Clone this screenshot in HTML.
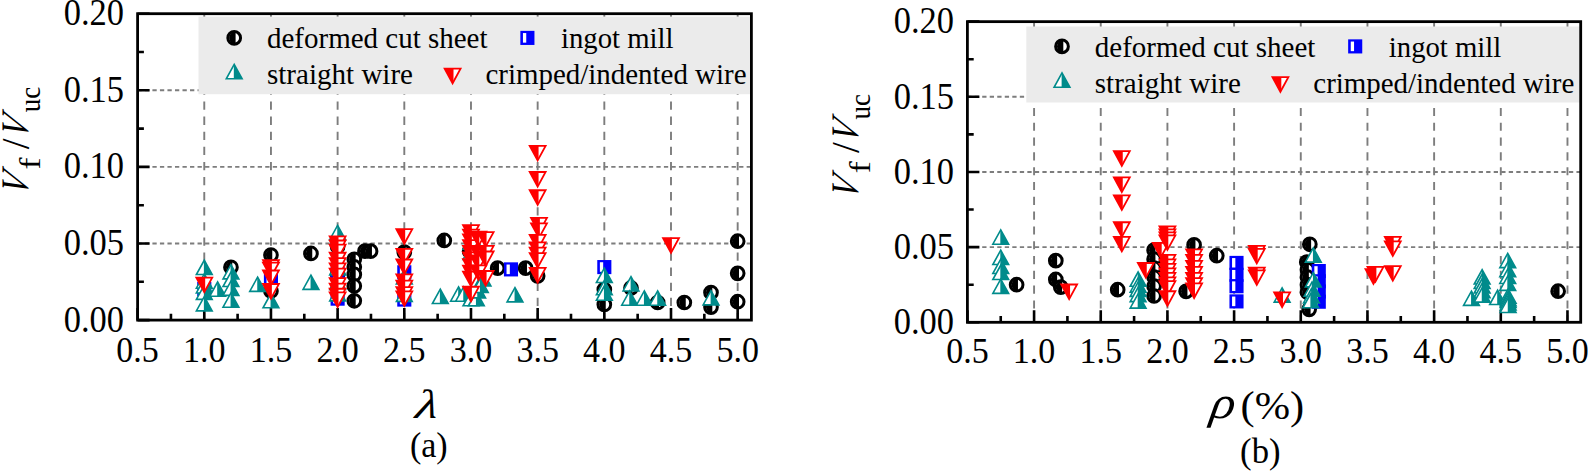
<!DOCTYPE html>
<html lang="en">
<head>
<meta charset="utf-8">
<title>Vf/Vuc scatter plots</title>
<style>
html,body{margin:0;padding:0;background:#fff;}
body{width:1588px;height:471px;overflow:hidden;}
svg{display:block;}
</style>
</head>
<body>
<svg width="1588" height="471" viewBox="0 0 1588 471" font-family='"Liberation Serif", "DejaVu Serif", serif'>
<rect width="1588" height="471" fill="#fff"/>
<g stroke="#7d7d7d" stroke-width="1.9" fill="none"><line x1="204.27" y1="320.1" x2="204.27" y2="13.7" stroke-dasharray="8.3 6.8" stroke-dashoffset="1.1"/><line x1="270.95" y1="320.1" x2="270.95" y2="13.7" stroke-dasharray="8.3 6.8" stroke-dashoffset="1.1"/><line x1="337.62" y1="320.1" x2="337.62" y2="13.7" stroke-dasharray="8.3 6.8" stroke-dashoffset="1.1"/><line x1="404.3" y1="320.1" x2="404.3" y2="13.7" stroke-dasharray="8.3 6.8" stroke-dashoffset="1.1"/><line x1="470.98" y1="320.1" x2="470.98" y2="13.7" stroke-dasharray="8.3 6.8" stroke-dashoffset="1.1"/><line x1="537.65" y1="320.1" x2="537.65" y2="13.7" stroke-dasharray="8.3 6.8" stroke-dashoffset="1.1"/><line x1="604.32" y1="320.1" x2="604.32" y2="13.7" stroke-dasharray="8.3 6.8" stroke-dashoffset="1.1"/><line x1="671" y1="320.1" x2="671" y2="13.7" stroke-dasharray="8.3 6.8" stroke-dashoffset="1.1"/><line x1="737.67" y1="320.1" x2="737.67" y2="13.7" stroke-dasharray="8.3 6.8" stroke-dashoffset="1.1"/><line x1="137.6" y1="243.5" x2="751.4" y2="243.5" stroke-dasharray="4.3 3.222" stroke-dashoffset="0.24"/><line x1="137.6" y1="166.9" x2="751.4" y2="166.9" stroke-dasharray="4.3 3.222" stroke-dashoffset="0.24"/><line x1="137.6" y1="90.3" x2="751.4" y2="90.3" stroke-dasharray="4.3 3.222" stroke-dashoffset="0.24"/></g>
<rect x="198.5" y="16.6" width="552.9" height="77.6" fill="#ebebeb"/>
<path d="M137.6 320.1V308.1M170.94 320.1V313.8M204.27 320.1V308.1M237.61 320.1V313.8M270.95 320.1V308.1M304.29 320.1V313.8M337.62 320.1V308.1M370.96 320.1V313.8M404.3 320.1V308.1M437.64 320.1V313.8M470.98 320.1V308.1M504.31 320.1V313.8M537.65 320.1V308.1M570.99 320.1V313.8M604.32 320.1V308.1M637.66 320.1V313.8M671 320.1V308.1M704.34 320.1V313.8M737.67 320.1V308.1M137.6 320.1H149.6M137.6 281.8H143.9M137.6 243.5H149.6M137.6 205.2H143.9M137.6 166.9H149.6M137.6 128.6H143.9M137.6 90.3H149.6M137.6 52H143.9M137.6 13.7H149.6" stroke="#000" stroke-width="2.6" fill="none"/>
<g><circle cx="230.94" cy="267.25" r="6.35" fill="#fff" stroke="#000000" stroke-width="3.0"/><path d="M232.25 260.9A6.35 6.35 0 0 0 232.25 273.6Z" fill="#000000"/><rect x="230.94" y="260.9" width="1" height="12.7" fill="#000000"/><circle cx="270.95" cy="254.99" r="6.35" fill="#fff" stroke="#000000" stroke-width="3.0"/><path d="M272.25 248.64A6.35 6.35 0 0 0 272.25 261.34Z" fill="#000000"/><rect x="270.95" y="248.64" width="1" height="12.7" fill="#000000"/><circle cx="270.95" cy="290.99" r="6.35" fill="#fff" stroke="#000000" stroke-width="3.0"/><path d="M272.25 284.64A6.35 6.35 0 0 0 272.25 297.34Z" fill="#000000"/><rect x="270.95" y="284.64" width="1" height="12.7" fill="#000000"/><circle cx="310.95" cy="253.46" r="6.35" fill="#fff" stroke="#000000" stroke-width="3.0"/><path d="M312.25 247.11A6.35 6.35 0 0 0 312.25 259.81Z" fill="#000000"/><rect x="310.95" y="247.11" width="1" height="12.7" fill="#000000"/><circle cx="337.62" cy="246.56" r="6.35" fill="#fff" stroke="#000000" stroke-width="3.0"/><path d="M338.93 240.21A6.35 6.35 0 0 0 338.93 252.91Z" fill="#000000"/><rect x="337.62" y="240.21" width="1" height="12.7" fill="#000000"/><circle cx="337.62" cy="274.14" r="6.35" fill="#fff" stroke="#000000" stroke-width="3.0"/><path d="M338.93 267.79A6.35 6.35 0 0 0 338.93 280.49Z" fill="#000000"/><rect x="337.62" y="267.79" width="1" height="12.7" fill="#000000"/><circle cx="354.29" cy="259.28" r="6.35" fill="#fff" stroke="#000000" stroke-width="3.0"/><path d="M355.59 252.93A6.35 6.35 0 0 0 355.59 265.63Z" fill="#000000"/><rect x="354.29" y="252.93" width="1" height="12.7" fill="#000000"/><circle cx="354.29" cy="266.94" r="6.35" fill="#fff" stroke="#000000" stroke-width="3.0"/><path d="M355.59 260.59A6.35 6.35 0 0 0 355.59 273.29Z" fill="#000000"/><rect x="354.29" y="260.59" width="1" height="12.7" fill="#000000"/><circle cx="354.29" cy="274.45" r="6.35" fill="#fff" stroke="#000000" stroke-width="3.0"/><path d="M355.59 268.1A6.35 6.35 0 0 0 355.59 280.8Z" fill="#000000"/><rect x="354.29" y="268.1" width="1" height="12.7" fill="#000000"/><circle cx="354.29" cy="285.94" r="6.35" fill="#fff" stroke="#000000" stroke-width="3.0"/><path d="M355.59 279.59A6.35 6.35 0 0 0 355.59 292.29Z" fill="#000000"/><rect x="354.29" y="279.59" width="1" height="12.7" fill="#000000"/><circle cx="354.29" cy="300.8" r="6.35" fill="#fff" stroke="#000000" stroke-width="3.0"/><path d="M355.59 294.45A6.35 6.35 0 0 0 355.59 307.15Z" fill="#000000"/><rect x="354.29" y="294.45" width="1" height="12.7" fill="#000000"/><circle cx="364.96" cy="251.16" r="6.35" fill="#fff" stroke="#000000" stroke-width="3.0"/><path d="M366.26 244.81A6.35 6.35 0 0 0 366.26 257.51Z" fill="#000000"/><rect x="364.96" y="244.81" width="1" height="12.7" fill="#000000"/><circle cx="370.56" cy="251.16" r="6.35" fill="#fff" stroke="#000000" stroke-width="3.0"/><path d="M371.86 244.81A6.35 6.35 0 0 0 371.86 257.51Z" fill="#000000"/><rect x="370.56" y="244.81" width="1" height="12.7" fill="#000000"/><circle cx="404.3" cy="252.08" r="6.35" fill="#fff" stroke="#000000" stroke-width="3.0"/><path d="M405.6 245.73A6.35 6.35 0 0 0 405.6 258.43Z" fill="#000000"/><rect x="404.3" y="245.73" width="1" height="12.7" fill="#000000"/><circle cx="444.3" cy="240.44" r="6.35" fill="#fff" stroke="#000000" stroke-width="3.0"/><path d="M445.6 234.09A6.35 6.35 0 0 0 445.6 246.79Z" fill="#000000"/><rect x="444.3" y="234.09" width="1" height="12.7" fill="#000000"/><circle cx="469.64" cy="251.16" r="6.35" fill="#fff" stroke="#000000" stroke-width="3.0"/><path d="M470.94 244.81A6.35 6.35 0 0 0 470.94 257.51Z" fill="#000000"/><rect x="469.64" y="244.81" width="1" height="12.7" fill="#000000"/><circle cx="497.64" cy="268.17" r="6.35" fill="#fff" stroke="#000000" stroke-width="3.0"/><path d="M498.94 261.82A6.35 6.35 0 0 0 498.94 274.52Z" fill="#000000"/><rect x="497.64" y="261.82" width="1" height="12.7" fill="#000000"/><circle cx="525.65" cy="268.17" r="6.35" fill="#fff" stroke="#000000" stroke-width="3.0"/><path d="M526.95 261.82A6.35 6.35 0 0 0 526.95 274.52Z" fill="#000000"/><rect x="525.65" y="261.82" width="1" height="12.7" fill="#000000"/><circle cx="537.65" cy="275.98" r="6.35" fill="#fff" stroke="#000000" stroke-width="3.0"/><path d="M538.95 269.63A6.35 6.35 0 0 0 538.95 282.33Z" fill="#000000"/><rect x="537.65" y="269.63" width="1" height="12.7" fill="#000000"/><circle cx="604.32" cy="289.46" r="6.35" fill="#fff" stroke="#000000" stroke-width="3.0"/><path d="M605.62 283.11A6.35 6.35 0 0 0 605.62 295.81Z" fill="#000000"/><rect x="604.32" y="283.11" width="1" height="12.7" fill="#000000"/><circle cx="604.32" cy="304.47" r="6.35" fill="#fff" stroke="#000000" stroke-width="3.0"/><path d="M605.62 298.12A6.35 6.35 0 0 0 605.62 310.82Z" fill="#000000"/><rect x="604.32" y="298.12" width="1" height="12.7" fill="#000000"/><circle cx="631" cy="287.93" r="6.35" fill="#fff" stroke="#000000" stroke-width="3.0"/><path d="M632.29 281.58A6.35 6.35 0 0 0 632.29 294.28Z" fill="#000000"/><rect x="631" y="281.58" width="1" height="12.7" fill="#000000"/><circle cx="657.67" cy="302.48" r="6.35" fill="#fff" stroke="#000000" stroke-width="3.0"/><path d="M658.97 296.13A6.35 6.35 0 0 0 658.97 308.83Z" fill="#000000"/><rect x="657.67" y="296.13" width="1" height="12.7" fill="#000000"/><circle cx="684.33" cy="302.48" r="6.35" fill="#fff" stroke="#000000" stroke-width="3.0"/><path d="M685.63 296.13A6.35 6.35 0 0 0 685.63 308.83Z" fill="#000000"/><rect x="684.33" y="296.13" width="1" height="12.7" fill="#000000"/><circle cx="711" cy="292.52" r="6.35" fill="#fff" stroke="#000000" stroke-width="3.0"/><path d="M712.3 286.17A6.35 6.35 0 0 0 712.3 298.87Z" fill="#000000"/><rect x="711" y="286.17" width="1" height="12.7" fill="#000000"/><circle cx="711" cy="307.08" r="6.35" fill="#fff" stroke="#000000" stroke-width="3.0"/><path d="M712.3 300.73A6.35 6.35 0 0 0 712.3 313.43Z" fill="#000000"/><rect x="711" y="300.73" width="1" height="12.7" fill="#000000"/><circle cx="737.67" cy="241.2" r="6.35" fill="#fff" stroke="#000000" stroke-width="3.0"/><path d="M738.97 234.85A6.35 6.35 0 0 0 738.97 247.55Z" fill="#000000"/><rect x="737.67" y="234.85" width="1" height="12.7" fill="#000000"/><circle cx="737.67" cy="273.37" r="6.35" fill="#fff" stroke="#000000" stroke-width="3.0"/><path d="M738.97 267.02A6.35 6.35 0 0 0 738.97 279.72Z" fill="#000000"/><rect x="737.67" y="267.02" width="1" height="12.7" fill="#000000"/><circle cx="737.67" cy="301.72" r="6.35" fill="#fff" stroke="#000000" stroke-width="3.0"/><path d="M738.97 295.37A6.35 6.35 0 0 0 738.97 308.07Z" fill="#000000"/><rect x="737.67" y="295.37" width="1" height="12.7" fill="#000000"/></g>
<g><rect x="197.22" y="281.95" width="14.1" height="14.1" fill="#0000ff"/><rect x="199.82" y="284.15" width="3.3" height="9.6" fill="#fff"/><rect x="263.9" y="272.45" width="14.1" height="14.1" fill="#0000ff"/><rect x="266.5" y="274.65" width="3.3" height="9.6" fill="#fff"/><rect x="330.57" y="267.09" width="14.1" height="14.1" fill="#0000ff"/><rect x="333.18" y="269.29" width="3.3" height="9.6" fill="#fff"/><rect x="330.57" y="291.6" width="14.1" height="14.1" fill="#0000ff"/><rect x="333.18" y="293.8" width="3.3" height="9.6" fill="#fff"/><rect x="397.25" y="265.25" width="14.1" height="14.1" fill="#0000ff"/><rect x="399.85" y="267.45" width="3.3" height="9.6" fill="#fff"/><rect x="397.25" y="292.52" width="14.1" height="14.1" fill="#0000ff"/><rect x="399.85" y="294.72" width="3.3" height="9.6" fill="#fff"/><rect x="503.93" y="262.34" width="14.1" height="14.1" fill="#0000ff"/><rect x="506.53" y="264.54" width="3.3" height="9.6" fill="#fff"/><rect x="597.27" y="260.04" width="14.1" height="14.1" fill="#0000ff"/><rect x="599.88" y="262.24" width="3.3" height="9.6" fill="#fff"/></g>
<g><path d="M204.27 260.26L212.17 274.56L196.37 274.56Z" fill="#fff" stroke="#008b8b" stroke-width="1.6" stroke-linejoin="miter"/><path d="M204.27 260.26L212.17 274.56L203.87 274.56L203.87 261.06Z" fill="#008b8b"/><path d="M204.27 273.89L212.17 288.19L196.37 288.19Z" fill="#fff" stroke="#008b8b" stroke-width="1.6" stroke-linejoin="miter"/><path d="M204.27 273.89L212.17 288.19L203.87 288.19L203.87 274.69Z" fill="#008b8b"/><path d="M204.27 278.64L212.17 292.94L196.37 292.94Z" fill="#fff" stroke="#008b8b" stroke-width="1.6" stroke-linejoin="miter"/><path d="M204.27 278.64L212.17 292.94L203.87 292.94L203.87 279.44Z" fill="#008b8b"/><path d="M204.27 285.07L212.17 299.37L196.37 299.37Z" fill="#fff" stroke="#008b8b" stroke-width="1.6" stroke-linejoin="miter"/><path d="M204.27 285.07L212.17 299.37L203.87 299.37L203.87 285.87Z" fill="#008b8b"/><path d="M204.27 296.56L212.17 310.86L196.37 310.86Z" fill="#fff" stroke="#008b8b" stroke-width="1.6" stroke-linejoin="miter"/><path d="M204.27 296.56L212.17 310.86L203.87 310.86L203.87 297.36Z" fill="#008b8b"/><path d="M217.61 282.01L225.51 296.31L209.71 296.31Z" fill="#fff" stroke="#008b8b" stroke-width="1.6" stroke-linejoin="miter"/><path d="M217.61 282.01L225.51 296.31L217.21 296.31L217.21 282.81Z" fill="#008b8b"/><path d="M230.94 264.55L238.84 278.85L223.04 278.85Z" fill="#fff" stroke="#008b8b" stroke-width="1.6" stroke-linejoin="miter"/><path d="M230.94 264.55L238.84 278.85L230.54 278.85L230.54 265.35Z" fill="#008b8b"/><path d="M230.94 272.21L238.84 286.51L223.04 286.51Z" fill="#fff" stroke="#008b8b" stroke-width="1.6" stroke-linejoin="miter"/><path d="M230.94 272.21L238.84 286.51L230.54 286.51L230.54 273.01Z" fill="#008b8b"/><path d="M230.94 281.09L238.84 295.39L223.04 295.39Z" fill="#fff" stroke="#008b8b" stroke-width="1.6" stroke-linejoin="miter"/><path d="M230.94 281.09L238.84 295.39L230.54 295.39L230.54 281.89Z" fill="#008b8b"/><path d="M230.94 292.89L238.84 307.19L223.04 307.19Z" fill="#fff" stroke="#008b8b" stroke-width="1.6" stroke-linejoin="miter"/><path d="M230.94 292.89L238.84 307.19L230.54 307.19L230.54 293.69Z" fill="#008b8b"/><path d="M257.62 277.11L265.51 291.41L249.72 291.41Z" fill="#fff" stroke="#008b8b" stroke-width="1.6" stroke-linejoin="miter"/><path d="M257.62 277.11L265.51 291.41L257.22 291.41L257.22 277.91Z" fill="#008b8b"/><path d="M270.95 293.5L278.85 307.8L263.05 307.8Z" fill="#fff" stroke="#008b8b" stroke-width="1.6" stroke-linejoin="miter"/><path d="M270.95 293.5L278.85 307.8L270.55 307.8L270.55 294.3Z" fill="#008b8b"/><path d="M310.95 275.12L318.85 289.42L303.06 289.42Z" fill="#fff" stroke="#008b8b" stroke-width="1.6" stroke-linejoin="miter"/><path d="M310.95 275.12L318.85 289.42L310.56 289.42L310.56 275.92Z" fill="#008b8b"/><path d="M337.62 225.33L345.52 239.63L329.73 239.63Z" fill="#fff" stroke="#008b8b" stroke-width="1.6" stroke-linejoin="miter"/><path d="M337.62 225.33L345.52 239.63L337.23 239.63L337.23 226.13Z" fill="#008b8b"/><path d="M337.62 260.56L345.52 274.86L329.73 274.86Z" fill="#fff" stroke="#008b8b" stroke-width="1.6" stroke-linejoin="miter"/><path d="M337.62 260.56L345.52 274.86L337.23 274.86L337.23 261.36Z" fill="#008b8b"/><path d="M337.62 275.12L345.52 289.42L329.73 289.42Z" fill="#fff" stroke="#008b8b" stroke-width="1.6" stroke-linejoin="miter"/><path d="M337.62 275.12L345.52 289.42L337.23 289.42L337.23 275.92Z" fill="#008b8b"/><path d="M337.62 286.61L345.52 300.91L329.73 300.91Z" fill="#fff" stroke="#008b8b" stroke-width="1.6" stroke-linejoin="miter"/><path d="M337.62 286.61L345.52 300.91L337.23 300.91L337.23 287.41Z" fill="#008b8b"/><path d="M404.3 269.75L412.2 284.05L396.4 284.05Z" fill="#fff" stroke="#008b8b" stroke-width="1.6" stroke-linejoin="miter"/><path d="M404.3 269.75L412.2 284.05L403.9 284.05L403.9 270.55Z" fill="#008b8b"/><path d="M404.3 287.07L412.2 301.37L396.4 301.37Z" fill="#fff" stroke="#008b8b" stroke-width="1.6" stroke-linejoin="miter"/><path d="M404.3 287.07L412.2 301.37L403.9 301.37L403.9 287.87Z" fill="#008b8b"/><path d="M440.3 289.21L448.2 303.51L432.4 303.51Z" fill="#fff" stroke="#008b8b" stroke-width="1.6" stroke-linejoin="miter"/><path d="M440.3 289.21L448.2 303.51L439.9 303.51L439.9 290.01Z" fill="#008b8b"/><path d="M458.57 286.91L466.47 301.21L450.67 301.21Z" fill="#fff" stroke="#008b8b" stroke-width="1.6" stroke-linejoin="miter"/><path d="M458.57 286.91L466.47 301.21L458.17 301.21L458.17 287.71Z" fill="#008b8b"/><path d="M463.64 286.91L471.54 301.21L455.74 301.21Z" fill="#fff" stroke="#008b8b" stroke-width="1.6" stroke-linejoin="miter"/><path d="M463.64 286.91L471.54 301.21L463.24 301.21L463.24 287.71Z" fill="#008b8b"/><path d="M470.98 234.98L478.88 249.28L463.08 249.28Z" fill="#fff" stroke="#008b8b" stroke-width="1.6" stroke-linejoin="miter"/><path d="M470.98 234.98L478.88 249.28L470.58 249.28L470.58 235.78Z" fill="#008b8b"/><path d="M470.98 245.24L478.88 259.54L463.08 259.54Z" fill="#fff" stroke="#008b8b" stroke-width="1.6" stroke-linejoin="miter"/><path d="M470.98 245.24L478.88 259.54L470.58 259.54L470.58 246.04Z" fill="#008b8b"/><path d="M480.31 245.24L488.21 259.54L472.41 259.54Z" fill="#fff" stroke="#008b8b" stroke-width="1.6" stroke-linejoin="miter"/><path d="M480.31 245.24L488.21 259.54L479.91 259.54L479.91 246.04Z" fill="#008b8b"/><path d="M470.98 291.51L478.88 305.81L463.08 305.81Z" fill="#fff" stroke="#008b8b" stroke-width="1.6" stroke-linejoin="miter"/><path d="M470.98 291.51L478.88 305.81L470.58 305.81L470.58 292.31Z" fill="#008b8b"/><path d="M476.31 291.51L484.21 305.81L468.41 305.81Z" fill="#fff" stroke="#008b8b" stroke-width="1.6" stroke-linejoin="miter"/><path d="M476.31 291.51L484.21 305.81L475.91 305.81L475.91 292.31Z" fill="#008b8b"/><path d="M477.64 283.54L485.54 297.84L469.74 297.84Z" fill="#fff" stroke="#008b8b" stroke-width="1.6" stroke-linejoin="miter"/><path d="M477.64 283.54L485.54 297.84L477.24 297.84L477.24 284.34Z" fill="#008b8b"/><path d="M482.98 271.59L490.88 285.89L475.08 285.89Z" fill="#fff" stroke="#008b8b" stroke-width="1.6" stroke-linejoin="miter"/><path d="M482.98 271.59L490.88 285.89L482.58 285.89L482.58 272.39Z" fill="#008b8b"/><path d="M480.31 278.18L488.21 292.48L472.41 292.48Z" fill="#fff" stroke="#008b8b" stroke-width="1.6" stroke-linejoin="miter"/><path d="M480.31 278.18L488.21 292.48L479.91 292.48L479.91 278.98Z" fill="#008b8b"/><path d="M514.98 287.53L522.88 301.83L507.08 301.83Z" fill="#fff" stroke="#008b8b" stroke-width="1.6" stroke-linejoin="miter"/><path d="M514.98 287.53L522.88 301.83L514.58 301.83L514.58 288.33Z" fill="#008b8b"/><path d="M604.32 268.22L612.22 282.52L596.42 282.52Z" fill="#fff" stroke="#008b8b" stroke-width="1.6" stroke-linejoin="miter"/><path d="M604.32 268.22L612.22 282.52L603.92 282.52L603.92 269.02Z" fill="#008b8b"/><path d="M604.32 280.48L612.22 294.78L596.42 294.78Z" fill="#fff" stroke="#008b8b" stroke-width="1.6" stroke-linejoin="miter"/><path d="M604.32 280.48L612.22 294.78L603.92 294.78L603.92 281.28Z" fill="#008b8b"/><path d="M604.32 285.99L612.22 300.29L596.42 300.29Z" fill="#fff" stroke="#008b8b" stroke-width="1.6" stroke-linejoin="miter"/><path d="M604.32 285.99L612.22 300.29L603.92 300.29L603.92 286.79Z" fill="#008b8b"/><path d="M631 276.65L638.89 290.95L623.1 290.95Z" fill="#fff" stroke="#008b8b" stroke-width="1.6" stroke-linejoin="miter"/><path d="M631 276.65L638.89 290.95L630.6 290.95L630.6 277.45Z" fill="#008b8b"/><path d="M629.66 290.9L637.56 305.2L621.76 305.2Z" fill="#fff" stroke="#008b8b" stroke-width="1.6" stroke-linejoin="miter"/><path d="M629.66 290.9L637.56 305.2L629.26 305.2L629.26 291.7Z" fill="#008b8b"/><path d="M644.33 290.9L652.23 305.2L636.43 305.2Z" fill="#fff" stroke="#008b8b" stroke-width="1.6" stroke-linejoin="miter"/><path d="M644.33 290.9L652.23 305.2L643.93 305.2L643.93 291.7Z" fill="#008b8b"/><path d="M657.67 290.9L665.57 305.2L649.77 305.2Z" fill="#fff" stroke="#008b8b" stroke-width="1.6" stroke-linejoin="miter"/><path d="M657.67 290.9L665.57 305.2L657.27 305.2L657.27 291.7Z" fill="#008b8b"/><path d="M711 290.59L718.9 304.89L703.11 304.89Z" fill="#fff" stroke="#008b8b" stroke-width="1.6" stroke-linejoin="miter"/><path d="M711 290.59L718.9 304.89L710.61 304.89L710.61 291.39Z" fill="#008b8b"/></g>
<g><path d="M196.32 277.56L212.22 277.56L204.27 292.16Z" fill="#fff" stroke="#ff0000" stroke-width="1.8" stroke-linejoin="miter"/><path d="M196.32 277.56L205.17 277.56L205.17 290.46L204.27 292.16Z" fill="#ff0000"/><path d="M263 260.1L278.9 260.1L270.95 274.7Z" fill="#fff" stroke="#ff0000" stroke-width="1.8" stroke-linejoin="miter"/><path d="M263 260.1L271.85 260.1L271.85 273L270.95 274.7Z" fill="#ff0000"/><path d="M263 262.55L278.9 262.55L270.95 277.15Z" fill="#fff" stroke="#ff0000" stroke-width="1.8" stroke-linejoin="miter"/><path d="M263 262.55L271.85 262.55L271.85 275.45L270.95 277.15Z" fill="#ff0000"/><path d="M263 270.52L278.9 270.52L270.95 285.12Z" fill="#fff" stroke="#ff0000" stroke-width="1.8" stroke-linejoin="miter"/><path d="M263 270.52L271.85 270.52L271.85 283.42L270.95 285.12Z" fill="#ff0000"/><path d="M263 284L278.9 284L270.95 298.6Z" fill="#fff" stroke="#ff0000" stroke-width="1.8" stroke-linejoin="miter"/><path d="M263 284L271.85 284L271.85 296.9L270.95 298.6Z" fill="#ff0000"/><path d="M329.68 236.35L345.57 236.35L337.62 250.95Z" fill="#fff" stroke="#ff0000" stroke-width="1.8" stroke-linejoin="miter"/><path d="M329.68 236.35L338.52 236.35L338.52 249.25L337.62 250.95Z" fill="#ff0000"/><path d="M329.68 240.49L345.57 240.49L337.62 255.09Z" fill="#fff" stroke="#ff0000" stroke-width="1.8" stroke-linejoin="miter"/><path d="M329.68 240.49L338.52 240.49L338.52 253.39L337.62 255.09Z" fill="#ff0000"/><path d="M329.68 244.63L345.57 244.63L337.62 259.23Z" fill="#fff" stroke="#ff0000" stroke-width="1.8" stroke-linejoin="miter"/><path d="M329.68 244.63L338.52 244.63L338.52 257.53L337.62 259.23Z" fill="#ff0000"/><path d="M329.68 252.75L345.57 252.75L337.62 267.35Z" fill="#fff" stroke="#ff0000" stroke-width="1.8" stroke-linejoin="miter"/><path d="M329.68 252.75L338.52 252.75L338.52 265.65L337.62 267.35Z" fill="#ff0000"/><path d="M329.68 258.11L345.57 258.11L337.62 272.71Z" fill="#fff" stroke="#ff0000" stroke-width="1.8" stroke-linejoin="miter"/><path d="M329.68 258.11L338.52 258.11L338.52 271.01L337.62 272.71Z" fill="#ff0000"/><path d="M329.68 263.47L345.57 263.47L337.62 278.07Z" fill="#fff" stroke="#ff0000" stroke-width="1.8" stroke-linejoin="miter"/><path d="M329.68 263.47L338.52 263.47L338.52 276.37L337.62 278.07Z" fill="#ff0000"/><path d="M329.68 268.68L345.57 268.68L337.62 283.28Z" fill="#fff" stroke="#ff0000" stroke-width="1.8" stroke-linejoin="miter"/><path d="M329.68 268.68L338.52 268.68L338.52 281.58L337.62 283.28Z" fill="#ff0000"/><path d="M329.68 278.18L345.57 278.18L337.62 292.78Z" fill="#fff" stroke="#ff0000" stroke-width="1.8" stroke-linejoin="miter"/><path d="M329.68 278.18L338.52 278.18L338.52 291.08L337.62 292.78Z" fill="#ff0000"/><path d="M329.68 283.54L345.57 283.54L337.62 298.14Z" fill="#fff" stroke="#ff0000" stroke-width="1.8" stroke-linejoin="miter"/><path d="M329.68 283.54L338.52 283.54L338.52 296.44L337.62 298.14Z" fill="#ff0000"/><path d="M329.68 288.75L345.57 288.75L337.62 303.35Z" fill="#fff" stroke="#ff0000" stroke-width="1.8" stroke-linejoin="miter"/><path d="M329.68 288.75L338.52 288.75L338.52 301.65L337.62 303.35Z" fill="#ff0000"/><path d="M329.68 292.42L345.57 292.42L337.62 307.02Z" fill="#fff" stroke="#ff0000" stroke-width="1.8" stroke-linejoin="miter"/><path d="M329.68 292.42L338.52 292.42L338.52 305.32L337.62 307.02Z" fill="#ff0000"/><path d="M396.35 229.15L412.25 229.15L404.3 243.75Z" fill="#fff" stroke="#ff0000" stroke-width="1.8" stroke-linejoin="miter"/><path d="M396.35 229.15L405.2 229.15L405.2 242.05L404.3 243.75Z" fill="#ff0000"/><path d="M396.35 248.92L412.25 248.92L404.3 263.52Z" fill="#fff" stroke="#ff0000" stroke-width="1.8" stroke-linejoin="miter"/><path d="M396.35 248.92L405.2 248.92L405.2 261.82L404.3 263.52Z" fill="#ff0000"/><path d="M396.35 259.49L412.25 259.49L404.3 274.09Z" fill="#fff" stroke="#ff0000" stroke-width="1.8" stroke-linejoin="miter"/><path d="M396.35 259.49L405.2 259.49L405.2 272.39L404.3 274.09Z" fill="#ff0000"/><path d="M396.35 274.35L412.25 274.35L404.3 288.95Z" fill="#fff" stroke="#ff0000" stroke-width="1.8" stroke-linejoin="miter"/><path d="M396.35 274.35L405.2 274.35L405.2 287.25L404.3 288.95Z" fill="#ff0000"/><path d="M396.35 280.63L412.25 280.63L404.3 295.23Z" fill="#fff" stroke="#ff0000" stroke-width="1.8" stroke-linejoin="miter"/><path d="M396.35 280.63L405.2 280.63L405.2 293.53L404.3 295.23Z" fill="#ff0000"/><path d="M396.35 287.06L412.25 287.06L404.3 301.66Z" fill="#fff" stroke="#ff0000" stroke-width="1.8" stroke-linejoin="miter"/><path d="M396.35 287.06L405.2 287.06L405.2 299.96L404.3 301.66Z" fill="#ff0000"/><path d="M396.35 291.35L412.25 291.35L404.3 305.95Z" fill="#fff" stroke="#ff0000" stroke-width="1.8" stroke-linejoin="miter"/><path d="M396.35 291.35L405.2 291.35L405.2 304.25L404.3 305.95Z" fill="#ff0000"/><path d="M463.03 225.17L478.93 225.17L470.98 239.77Z" fill="#fff" stroke="#ff0000" stroke-width="1.8" stroke-linejoin="miter"/><path d="M463.03 225.17L471.88 225.17L471.88 238.07L470.98 239.77Z" fill="#ff0000"/><path d="M463.03 229.61L478.93 229.61L470.98 244.21Z" fill="#fff" stroke="#ff0000" stroke-width="1.8" stroke-linejoin="miter"/><path d="M463.03 229.61L471.88 229.61L471.88 242.51L470.98 244.21Z" fill="#ff0000"/><path d="M463.03 234.36L478.93 234.36L470.98 248.96Z" fill="#fff" stroke="#ff0000" stroke-width="1.8" stroke-linejoin="miter"/><path d="M463.03 234.36L471.88 234.36L471.88 247.26L470.98 248.96Z" fill="#ff0000"/><path d="M463.03 240.03L478.93 240.03L470.98 254.63Z" fill="#fff" stroke="#ff0000" stroke-width="1.8" stroke-linejoin="miter"/><path d="M463.03 240.03L471.88 240.03L471.88 252.93L470.98 254.63Z" fill="#ff0000"/><path d="M463.03 245.85L478.93 245.85L470.98 260.45Z" fill="#fff" stroke="#ff0000" stroke-width="1.8" stroke-linejoin="miter"/><path d="M463.03 245.85L471.88 245.85L471.88 258.75L470.98 260.45Z" fill="#ff0000"/><path d="M463.03 252.44L478.93 252.44L470.98 267.04Z" fill="#fff" stroke="#ff0000" stroke-width="1.8" stroke-linejoin="miter"/><path d="M463.03 252.44L471.88 252.44L471.88 265.34L470.98 267.04Z" fill="#ff0000"/><path d="M463.03 259.18L478.93 259.18L470.98 273.78Z" fill="#fff" stroke="#ff0000" stroke-width="1.8" stroke-linejoin="miter"/><path d="M463.03 259.18L471.88 259.18L471.88 272.08L470.98 273.78Z" fill="#ff0000"/><path d="M463.03 265.77L478.93 265.77L470.98 280.37Z" fill="#fff" stroke="#ff0000" stroke-width="1.8" stroke-linejoin="miter"/><path d="M463.03 265.77L471.88 265.77L471.88 278.67L470.98 280.37Z" fill="#ff0000"/><path d="M463.03 271.59L478.93 271.59L470.98 286.19Z" fill="#fff" stroke="#ff0000" stroke-width="1.8" stroke-linejoin="miter"/><path d="M463.03 271.59L471.88 271.59L471.88 284.49L470.98 286.19Z" fill="#ff0000"/><path d="M463.03 286.76L478.93 286.76L470.98 301.36Z" fill="#fff" stroke="#ff0000" stroke-width="1.8" stroke-linejoin="miter"/><path d="M463.03 286.76L471.88 286.76L471.88 299.66L470.98 301.36Z" fill="#ff0000"/><path d="M470.49 231.6L486.39 231.6L478.44 246.2Z" fill="#fff" stroke="#ff0000" stroke-width="1.8" stroke-linejoin="miter"/><path d="M470.49 231.6L479.34 231.6L479.34 244.5L478.44 246.2Z" fill="#ff0000"/><path d="M470.49 245.85L486.39 245.85L478.44 260.45Z" fill="#fff" stroke="#ff0000" stroke-width="1.8" stroke-linejoin="miter"/><path d="M470.49 245.85L479.34 245.85L479.34 258.75L478.44 260.45Z" fill="#ff0000"/><path d="M470.49 255.35L486.39 255.35L478.44 269.95Z" fill="#fff" stroke="#ff0000" stroke-width="1.8" stroke-linejoin="miter"/><path d="M470.49 255.35L479.34 255.35L479.34 268.25L478.44 269.95Z" fill="#ff0000"/><path d="M470.49 265.31L486.39 265.31L478.44 279.91Z" fill="#fff" stroke="#ff0000" stroke-width="1.8" stroke-linejoin="miter"/><path d="M470.49 265.31L479.34 265.31L479.34 278.21L478.44 279.91Z" fill="#ff0000"/><path d="M477.69 232.06L493.59 232.06L485.64 246.66Z" fill="#fff" stroke="#ff0000" stroke-width="1.8" stroke-linejoin="miter"/><path d="M477.69 232.06L486.54 232.06L486.54 244.96L485.64 246.66Z" fill="#ff0000"/><path d="M477.69 245.85L493.59 245.85L485.64 260.45Z" fill="#fff" stroke="#ff0000" stroke-width="1.8" stroke-linejoin="miter"/><path d="M477.69 245.85L486.54 245.85L486.54 258.75L485.64 260.45Z" fill="#ff0000"/><path d="M477.69 251.52L493.59 251.52L485.64 266.12Z" fill="#fff" stroke="#ff0000" stroke-width="1.8" stroke-linejoin="miter"/><path d="M477.69 251.52L486.54 251.52L486.54 264.42L485.64 266.12Z" fill="#ff0000"/><path d="M477.69 270.98L493.59 270.98L485.64 285.58Z" fill="#fff" stroke="#ff0000" stroke-width="1.8" stroke-linejoin="miter"/><path d="M477.69 270.98L486.54 270.98L486.54 283.88L485.64 285.58Z" fill="#ff0000"/><path d="M529.7 145.81L545.6 145.81L537.65 160.41Z" fill="#fff" stroke="#ff0000" stroke-width="1.8" stroke-linejoin="miter"/><path d="M529.7 145.81L538.55 145.81L538.55 158.71L537.65 160.41Z" fill="#ff0000"/><path d="M529.7 172.01L545.6 172.01L537.65 186.61Z" fill="#fff" stroke="#ff0000" stroke-width="1.8" stroke-linejoin="miter"/><path d="M529.7 172.01L538.55 172.01L538.55 184.91L537.65 186.61Z" fill="#ff0000"/><path d="M529.7 190.24L545.6 190.24L537.65 204.84Z" fill="#fff" stroke="#ff0000" stroke-width="1.8" stroke-linejoin="miter"/><path d="M529.7 190.24L538.55 190.24L538.55 203.14L537.65 204.84Z" fill="#ff0000"/><path d="M531.03 217.97L546.93 217.97L538.98 232.57Z" fill="#fff" stroke="#ff0000" stroke-width="1.8" stroke-linejoin="miter"/><path d="M531.03 217.97L539.88 217.97L539.88 230.87L538.98 232.57Z" fill="#ff0000"/><path d="M531.03 223.33L546.93 223.33L538.98 237.93Z" fill="#fff" stroke="#ff0000" stroke-width="1.8" stroke-linejoin="miter"/><path d="M531.03 223.33L539.88 223.33L539.88 236.23L538.98 237.93Z" fill="#ff0000"/><path d="M529.7 234.97L545.6 234.97L537.65 249.57Z" fill="#fff" stroke="#ff0000" stroke-width="1.8" stroke-linejoin="miter"/><path d="M529.7 234.97L538.55 234.97L538.55 247.87L537.65 249.57Z" fill="#ff0000"/><path d="M529.7 242.33L545.6 242.33L537.65 256.93Z" fill="#fff" stroke="#ff0000" stroke-width="1.8" stroke-linejoin="miter"/><path d="M529.7 242.33L538.55 242.33L538.55 255.23L537.65 256.93Z" fill="#ff0000"/><path d="M529.7 247.69L545.6 247.69L537.65 262.29Z" fill="#fff" stroke="#ff0000" stroke-width="1.8" stroke-linejoin="miter"/><path d="M529.7 247.69L538.55 247.69L538.55 260.59L537.65 262.29Z" fill="#ff0000"/><path d="M529.7 253.05L545.6 253.05L537.65 267.65Z" fill="#fff" stroke="#ff0000" stroke-width="1.8" stroke-linejoin="miter"/><path d="M529.7 253.05L538.55 253.05L538.55 265.95L537.65 267.65Z" fill="#ff0000"/><path d="M529.7 267.91L545.6 267.91L537.65 282.51Z" fill="#fff" stroke="#ff0000" stroke-width="1.8" stroke-linejoin="miter"/><path d="M529.7 267.91L538.55 267.91L538.55 280.81L537.65 282.51Z" fill="#ff0000"/><path d="M663.05 238.19L678.95 238.19L671 252.79Z" fill="#fff" stroke="#ff0000" stroke-width="1.8" stroke-linejoin="miter"/><path d="M663.05 238.19L671.9 238.19L671.9 251.09L671 252.79Z" fill="#ff0000"/></g>
<rect x="137.6" y="13.7" width="613.8" height="306.4" fill="none" stroke="#000" stroke-width="2.8"/>
<circle cx="234.2" cy="37.9" r="6.35" fill="#fff" stroke="#000000" stroke-width="3.0"/><path d="M235.5 31.55A6.35 6.35 0 0 0 235.5 44.25Z" fill="#000000"/><rect x="234.2" y="31.55" width="1" height="12.7" fill="#000000"/>
<path d="M234.2 64.45L242.1 78.75L226.3 78.75Z" fill="#fff" stroke="#008b8b" stroke-width="1.6" stroke-linejoin="miter"/><path d="M234.2 64.45L242.1 78.75L233.8 78.75L233.8 65.25Z" fill="#008b8b"/>
<rect x="520.35" y="30.85" width="14.1" height="14.1" fill="#0000ff"/><rect x="522.95" y="33.05" width="3.3" height="9.6" fill="#fff"/>
<path d="M444.65 68.7L460.55 68.7L452.6 83.3Z" fill="#fff" stroke="#ff0000" stroke-width="1.8" stroke-linejoin="miter"/><path d="M444.65 68.7L453.5 68.7L453.5 81.6L452.6 83.3Z" fill="#ff0000"/>
<g font-size="29.5" fill="#000">
<text x="267" y="47.8" textLength="220.5" lengthAdjust="spacingAndGlyphs">deformed cut sheet</text>
<text x="561" y="47.9" textLength="112.5" lengthAdjust="spacingAndGlyphs">ingot mill</text>
<text x="267" y="83.8" textLength="146" lengthAdjust="spacingAndGlyphs">straight wire</text>
<text x="485.5" y="83.8" textLength="261" lengthAdjust="spacingAndGlyphs">crimped/indented wire</text>
</g>
<g font-size="34.0" fill="#000" text-anchor="middle">
<text transform="translate(137.6 361.6) scale(1 1.04)">0.5</text>
<text transform="translate(204.27 361.6) scale(1 1.04)">1.0</text>
<text transform="translate(270.95 361.6) scale(1 1.04)">1.5</text>
<text transform="translate(337.62 361.6) scale(1 1.04)">2.0</text>
<text transform="translate(404.3 361.6) scale(1 1.04)">2.5</text>
<text transform="translate(470.98 361.6) scale(1 1.04)">3.0</text>
<text transform="translate(537.65 361.6) scale(1 1.04)">3.5</text>
<text transform="translate(604.32 361.6) scale(1 1.04)">4.0</text>
<text transform="translate(671 361.6) scale(1 1.04)">4.5</text>
<text transform="translate(737.67 361.6) scale(1 1.04)">5.0</text>
</g>
<g font-size="34.5" fill="#000" text-anchor="end">
<text transform="translate(124 331.5) scale(1 1.085)">0.00</text>
<text transform="translate(124 254.9) scale(1 1.085)">0.05</text>
<text transform="translate(124 178.3) scale(1 1.085)">0.10</text>
<text transform="translate(124 101.7) scale(1 1.085)">0.15</text>
<text transform="translate(124 25.1) scale(1 1.085)">0.20</text>
</g>
<g stroke="#7d7d7d" stroke-width="1.9" fill="none"><line x1="1034.08" y1="322.3" x2="1034.08" y2="21.65" stroke-dasharray="8.14 6.67" stroke-dashoffset="1.08"/><line x1="1100.75" y1="322.3" x2="1100.75" y2="21.65" stroke-dasharray="8.14 6.67" stroke-dashoffset="1.08"/><line x1="1167.42" y1="322.3" x2="1167.42" y2="21.65" stroke-dasharray="8.14 6.67" stroke-dashoffset="1.08"/><line x1="1234.1" y1="322.3" x2="1234.1" y2="21.65" stroke-dasharray="8.14 6.67" stroke-dashoffset="1.08"/><line x1="1300.78" y1="322.3" x2="1300.78" y2="21.65" stroke-dasharray="8.14 6.67" stroke-dashoffset="1.08"/><line x1="1367.45" y1="322.3" x2="1367.45" y2="21.65" stroke-dasharray="8.14 6.67" stroke-dashoffset="1.08"/><line x1="1434.12" y1="322.3" x2="1434.12" y2="21.65" stroke-dasharray="8.14 6.67" stroke-dashoffset="1.08"/><line x1="1500.8" y1="322.3" x2="1500.8" y2="21.65" stroke-dasharray="8.14 6.67" stroke-dashoffset="1.08"/><line x1="1567.47" y1="322.3" x2="1567.47" y2="21.65" stroke-dasharray="8.14 6.67" stroke-dashoffset="1.08"/><line x1="967.4" y1="247.14" x2="1580.7" y2="247.14" stroke-dasharray="4.3 3.222" stroke-dashoffset="0.24"/><line x1="967.4" y1="171.97" x2="1580.7" y2="171.97" stroke-dasharray="4.3 3.222" stroke-dashoffset="0.24"/><line x1="967.4" y1="96.81" x2="1580.7" y2="96.81" stroke-dasharray="4.3 3.222" stroke-dashoffset="0.24"/></g>
<rect x="1026.3" y="26.5" width="554.4" height="76" fill="#ebebeb"/>
<path d="M967.4 322.3V310.3M1000.74 322.3V316M1034.08 322.3V310.3M1067.41 322.3V316M1100.75 322.3V310.3M1134.09 322.3V316M1167.42 322.3V310.3M1200.76 322.3V316M1234.1 322.3V310.3M1267.44 322.3V316M1300.78 322.3V310.3M1334.11 322.3V316M1367.45 322.3V310.3M1400.79 322.3V316M1434.12 322.3V310.3M1467.46 322.3V316M1500.8 322.3V310.3M1534.14 322.3V316M1567.47 322.3V310.3M967.4 322.3H979.4M967.4 284.72H973.7M967.4 247.14H979.4M967.4 209.56H973.7M967.4 171.97H979.4M967.4 134.39H973.7M967.4 96.81H979.4M967.4 59.23H973.7M967.4 21.65H979.4" stroke="#000" stroke-width="2.6" fill="none"/>
<g><circle cx="1016.61" cy="284.72" r="6.35" fill="#fff" stroke="#000000" stroke-width="3.0"/><path d="M1017.91 278.37A6.35 6.35 0 0 0 1017.91 291.07Z" fill="#000000"/><rect x="1016.61" y="278.37" width="1" height="12.7" fill="#000000"/><circle cx="1055.81" cy="260.67" r="6.35" fill="#fff" stroke="#000000" stroke-width="3.0"/><path d="M1057.11 254.32A6.35 6.35 0 0 0 1057.11 267.02Z" fill="#000000"/><rect x="1055.81" y="254.32" width="1" height="12.7" fill="#000000"/><circle cx="1055.81" cy="279.46" r="6.35" fill="#fff" stroke="#000000" stroke-width="3.0"/><path d="M1057.11 273.11A6.35 6.35 0 0 0 1057.11 285.81Z" fill="#000000"/><rect x="1055.81" y="273.11" width="1" height="12.7" fill="#000000"/><circle cx="1060.74" cy="287.12" r="6.35" fill="#fff" stroke="#000000" stroke-width="3.0"/><path d="M1062.04 280.77A6.35 6.35 0 0 0 1062.04 293.47Z" fill="#000000"/><rect x="1060.74" y="280.77" width="1" height="12.7" fill="#000000"/><circle cx="1117.69" cy="289.68" r="6.35" fill="#fff" stroke="#000000" stroke-width="3.0"/><path d="M1118.99 283.33A6.35 6.35 0 0 0 1118.99 296.03Z" fill="#000000"/><rect x="1117.69" y="283.33" width="1" height="12.7" fill="#000000"/><circle cx="1154.09" cy="250.14" r="6.35" fill="#fff" stroke="#000000" stroke-width="3.0"/><path d="M1155.39 243.79A6.35 6.35 0 0 0 1155.39 256.49Z" fill="#000000"/><rect x="1154.09" y="243.79" width="1" height="12.7" fill="#000000"/><circle cx="1154.09" cy="259.16" r="6.35" fill="#fff" stroke="#000000" stroke-width="3.0"/><path d="M1155.39 252.81A6.35 6.35 0 0 0 1155.39 265.51Z" fill="#000000"/><rect x="1154.09" y="252.81" width="1" height="12.7" fill="#000000"/><circle cx="1154.09" cy="268.18" r="6.35" fill="#fff" stroke="#000000" stroke-width="3.0"/><path d="M1155.39 261.83A6.35 6.35 0 0 0 1155.39 274.53Z" fill="#000000"/><rect x="1154.09" y="261.83" width="1" height="12.7" fill="#000000"/><circle cx="1154.09" cy="277.2" r="6.35" fill="#fff" stroke="#000000" stroke-width="3.0"/><path d="M1155.39 270.85A6.35 6.35 0 0 0 1155.39 283.55Z" fill="#000000"/><rect x="1154.09" y="270.85" width="1" height="12.7" fill="#000000"/><circle cx="1154.09" cy="286.22" r="6.35" fill="#fff" stroke="#000000" stroke-width="3.0"/><path d="M1155.39 279.87A6.35 6.35 0 0 0 1155.39 292.57Z" fill="#000000"/><rect x="1154.09" y="279.87" width="1" height="12.7" fill="#000000"/><circle cx="1154.09" cy="295.99" r="6.35" fill="#fff" stroke="#000000" stroke-width="3.0"/><path d="M1155.39 289.64A6.35 6.35 0 0 0 1155.39 302.34Z" fill="#000000"/><rect x="1154.09" y="289.64" width="1" height="12.7" fill="#000000"/><circle cx="1186.09" cy="291.33" r="6.35" fill="#fff" stroke="#000000" stroke-width="3.0"/><path d="M1187.39 284.98A6.35 6.35 0 0 0 1187.39 297.68Z" fill="#000000"/><rect x="1186.09" y="284.98" width="1" height="12.7" fill="#000000"/><circle cx="1194.1" cy="244.88" r="6.35" fill="#fff" stroke="#000000" stroke-width="3.0"/><path d="M1195.39 238.53A6.35 6.35 0 0 0 1195.39 251.23Z" fill="#000000"/><rect x="1194.1" y="238.53" width="1" height="12.7" fill="#000000"/><circle cx="1216.76" cy="255.71" r="6.35" fill="#fff" stroke="#000000" stroke-width="3.0"/><path d="M1218.06 249.36A6.35 6.35 0 0 0 1218.06 262.06Z" fill="#000000"/><rect x="1216.76" y="249.36" width="1" height="12.7" fill="#000000"/><circle cx="1309.84" cy="244.28" r="6.35" fill="#fff" stroke="#000000" stroke-width="3.0"/><path d="M1311.14 237.93A6.35 6.35 0 0 0 1311.14 250.63Z" fill="#000000"/><rect x="1309.84" y="237.93" width="1" height="12.7" fill="#000000"/><circle cx="1306.78" cy="262.17" r="6.35" fill="#fff" stroke="#000000" stroke-width="3.0"/><path d="M1308.08 255.82A6.35 6.35 0 0 0 1308.08 268.52Z" fill="#000000"/><rect x="1306.78" y="255.82" width="1" height="12.7" fill="#000000"/><circle cx="1307.44" cy="269.69" r="6.35" fill="#fff" stroke="#000000" stroke-width="3.0"/><path d="M1308.74 263.34A6.35 6.35 0 0 0 1308.74 276.04Z" fill="#000000"/><rect x="1307.44" y="263.34" width="1" height="12.7" fill="#000000"/><circle cx="1307.44" cy="277.2" r="6.35" fill="#fff" stroke="#000000" stroke-width="3.0"/><path d="M1308.74 270.85A6.35 6.35 0 0 0 1308.74 283.55Z" fill="#000000"/><rect x="1307.44" y="270.85" width="1" height="12.7" fill="#000000"/><circle cx="1307.44" cy="284.72" r="6.35" fill="#fff" stroke="#000000" stroke-width="3.0"/><path d="M1308.74 278.37A6.35 6.35 0 0 0 1308.74 291.07Z" fill="#000000"/><rect x="1307.44" y="278.37" width="1" height="12.7" fill="#000000"/><circle cx="1307.44" cy="292.24" r="6.35" fill="#fff" stroke="#000000" stroke-width="3.0"/><path d="M1308.74 285.88A6.35 6.35 0 0 0 1308.74 298.59Z" fill="#000000"/><rect x="1307.44" y="285.88" width="1" height="12.7" fill="#000000"/><circle cx="1309.18" cy="309.37" r="6.35" fill="#fff" stroke="#000000" stroke-width="3.0"/><path d="M1310.48 303.02A6.35 6.35 0 0 0 1310.48 315.72Z" fill="#000000"/><rect x="1309.18" y="303.02" width="1" height="12.7" fill="#000000"/><circle cx="1558.14" cy="291.18" r="6.35" fill="#fff" stroke="#000000" stroke-width="3.0"/><path d="M1559.44 284.83A6.35 6.35 0 0 0 1559.44 297.53Z" fill="#000000"/><rect x="1558.14" y="284.83" width="1" height="12.7" fill="#000000"/></g>
<g><rect x="1229.45" y="255.87" width="14.1" height="14.1" fill="#0000ff"/><rect x="1232.05" y="258.07" width="3.3" height="9.6" fill="#fff"/><rect x="1229.45" y="267.75" width="14.1" height="14.1" fill="#0000ff"/><rect x="1232.05" y="269.95" width="3.3" height="9.6" fill="#fff"/><rect x="1229.45" y="279.17" width="14.1" height="14.1" fill="#0000ff"/><rect x="1232.05" y="281.37" width="3.3" height="9.6" fill="#fff"/><rect x="1229.45" y="294.35" width="14.1" height="14.1" fill="#0000ff"/><rect x="1232.05" y="296.55" width="3.3" height="9.6" fill="#fff"/><rect x="1311.73" y="263.99" width="14.1" height="14.1" fill="#0000ff"/><rect x="1314.33" y="266.19" width="3.3" height="9.6" fill="#fff"/><rect x="1311.73" y="274.21" width="14.1" height="14.1" fill="#0000ff"/><rect x="1314.33" y="276.41" width="3.3" height="9.6" fill="#fff"/><rect x="1311.73" y="284.43" width="14.1" height="14.1" fill="#0000ff"/><rect x="1314.33" y="286.63" width="3.3" height="9.6" fill="#fff"/><rect x="1311.73" y="294.66" width="14.1" height="14.1" fill="#0000ff"/><rect x="1314.33" y="296.86" width="3.3" height="9.6" fill="#fff"/></g>
<g><path d="M1000.74 229.92L1008.64 244.22L992.84 244.22Z" fill="#fff" stroke="#008b8b" stroke-width="1.6" stroke-linejoin="miter"/><path d="M1000.74 229.92L1008.64 244.22L1000.34 244.22L1000.34 230.72Z" fill="#008b8b"/><path d="M1000.74 250.21L1008.64 264.51L992.84 264.51Z" fill="#fff" stroke="#008b8b" stroke-width="1.6" stroke-linejoin="miter"/><path d="M1000.74 250.21L1008.64 264.51L1000.34 264.51L1000.34 251.01Z" fill="#008b8b"/><path d="M1000.74 259.23L1008.64 273.53L992.84 273.53Z" fill="#fff" stroke="#008b8b" stroke-width="1.6" stroke-linejoin="miter"/><path d="M1000.74 259.23L1008.64 273.53L1000.34 273.53L1000.34 260.03Z" fill="#008b8b"/><path d="M1000.74 265.24L1008.64 279.54L992.84 279.54Z" fill="#fff" stroke="#008b8b" stroke-width="1.6" stroke-linejoin="miter"/><path d="M1000.74 265.24L1008.64 279.54L1000.34 279.54L1000.34 266.04Z" fill="#008b8b"/><path d="M1000.74 279.07L1008.64 293.37L992.84 293.37Z" fill="#fff" stroke="#008b8b" stroke-width="1.6" stroke-linejoin="miter"/><path d="M1000.74 279.07L1008.64 293.37L1000.34 293.37L1000.34 279.87Z" fill="#008b8b"/><path d="M1138.09 272.01L1145.99 286.31L1130.19 286.31Z" fill="#fff" stroke="#008b8b" stroke-width="1.6" stroke-linejoin="miter"/><path d="M1138.09 272.01L1145.99 286.31L1137.69 286.31L1137.69 272.81Z" fill="#008b8b"/><path d="M1138.09 277.87L1145.99 292.17L1130.19 292.17Z" fill="#fff" stroke="#008b8b" stroke-width="1.6" stroke-linejoin="miter"/><path d="M1138.09 277.87L1145.99 292.17L1137.69 292.17L1137.69 278.67Z" fill="#008b8b"/><path d="M1138.09 282.08L1145.99 296.38L1130.19 296.38Z" fill="#fff" stroke="#008b8b" stroke-width="1.6" stroke-linejoin="miter"/><path d="M1138.09 282.08L1145.99 296.38L1137.69 296.38L1137.69 282.88Z" fill="#008b8b"/><path d="M1138.09 287.34L1145.99 301.64L1130.19 301.64Z" fill="#fff" stroke="#008b8b" stroke-width="1.6" stroke-linejoin="miter"/><path d="M1138.09 287.34L1145.99 301.64L1137.69 301.64L1137.69 288.14Z" fill="#008b8b"/><path d="M1138.09 293.8L1145.99 308.1L1130.19 308.1Z" fill="#fff" stroke="#008b8b" stroke-width="1.6" stroke-linejoin="miter"/><path d="M1138.09 293.8L1145.99 308.1L1137.69 308.1L1137.69 294.6Z" fill="#008b8b"/><path d="M1282.11 287.79L1290.01 302.09L1274.21 302.09Z" fill="#fff" stroke="#008b8b" stroke-width="1.6" stroke-linejoin="miter"/><path d="M1282.11 287.79L1290.01 302.09L1281.71 302.09L1281.71 288.59Z" fill="#008b8b"/><path d="M1313.31 247.81L1321.21 262.11L1305.41 262.11Z" fill="#fff" stroke="#008b8b" stroke-width="1.6" stroke-linejoin="miter"/><path d="M1313.31 247.81L1321.21 262.11L1312.91 262.11L1312.91 248.61Z" fill="#008b8b"/><path d="M1313.31 272.61L1321.21 286.91L1305.41 286.91Z" fill="#fff" stroke="#008b8b" stroke-width="1.6" stroke-linejoin="miter"/><path d="M1313.31 272.61L1321.21 286.91L1312.91 286.91L1312.91 273.41Z" fill="#008b8b"/><path d="M1312.11 281.93L1320.01 296.23L1304.21 296.23Z" fill="#fff" stroke="#008b8b" stroke-width="1.6" stroke-linejoin="miter"/><path d="M1312.11 281.93L1320.01 296.23L1311.71 296.23L1311.71 282.73Z" fill="#008b8b"/><path d="M1311.44 288.54L1319.34 302.84L1303.54 302.84Z" fill="#fff" stroke="#008b8b" stroke-width="1.6" stroke-linejoin="miter"/><path d="M1311.44 288.54L1319.34 302.84L1311.04 302.84L1311.04 289.34Z" fill="#008b8b"/><path d="M1310.78 293.5L1318.68 307.8L1302.88 307.8Z" fill="#fff" stroke="#008b8b" stroke-width="1.6" stroke-linejoin="miter"/><path d="M1310.78 293.5L1318.68 307.8L1310.38 307.8L1310.38 294.3Z" fill="#008b8b"/><path d="M1471.46 291.1L1479.36 305.4L1463.56 305.4Z" fill="#fff" stroke="#008b8b" stroke-width="1.6" stroke-linejoin="miter"/><path d="M1471.46 291.1L1479.36 305.4L1471.06 305.4L1471.06 291.9Z" fill="#008b8b"/><path d="M1497.6 290.2L1505.5 304.5L1489.7 304.5Z" fill="#fff" stroke="#008b8b" stroke-width="1.6" stroke-linejoin="miter"/><path d="M1497.6 290.2L1505.5 304.5L1497.2 304.5L1497.2 291Z" fill="#008b8b"/><path d="M1482.13 269.75L1490.03 284.05L1474.23 284.05Z" fill="#fff" stroke="#008b8b" stroke-width="1.6" stroke-linejoin="miter"/><path d="M1482.13 269.75L1490.03 284.05L1481.73 284.05L1481.73 270.55Z" fill="#008b8b"/><path d="M1482.13 274.26L1490.03 288.56L1474.23 288.56Z" fill="#fff" stroke="#008b8b" stroke-width="1.6" stroke-linejoin="miter"/><path d="M1482.13 274.26L1490.03 288.56L1481.73 288.56L1481.73 275.06Z" fill="#008b8b"/><path d="M1482.13 278.77L1490.03 293.07L1474.23 293.07Z" fill="#fff" stroke="#008b8b" stroke-width="1.6" stroke-linejoin="miter"/><path d="M1482.13 278.77L1490.03 293.07L1481.73 293.07L1481.73 279.57Z" fill="#008b8b"/><path d="M1482.13 283.28L1490.03 297.58L1474.23 297.58Z" fill="#fff" stroke="#008b8b" stroke-width="1.6" stroke-linejoin="miter"/><path d="M1482.13 283.28L1490.03 297.58L1481.73 297.58L1481.73 284.08Z" fill="#008b8b"/><path d="M1482.13 287.79L1490.03 302.09L1474.23 302.09Z" fill="#fff" stroke="#008b8b" stroke-width="1.6" stroke-linejoin="miter"/><path d="M1482.13 287.79L1490.03 302.09L1481.73 302.09L1481.73 288.59Z" fill="#008b8b"/><path d="M1507.73 253.37L1515.63 267.67L1499.83 267.67Z" fill="#fff" stroke="#008b8b" stroke-width="1.6" stroke-linejoin="miter"/><path d="M1507.73 253.37L1515.63 267.67L1507.33 267.67L1507.33 254.17Z" fill="#008b8b"/><path d="M1507.73 262.39L1515.63 276.69L1499.83 276.69Z" fill="#fff" stroke="#008b8b" stroke-width="1.6" stroke-linejoin="miter"/><path d="M1507.73 262.39L1515.63 276.69L1507.33 276.69L1507.33 263.19Z" fill="#008b8b"/><path d="M1507.73 269.15L1515.63 283.45L1499.83 283.45Z" fill="#fff" stroke="#008b8b" stroke-width="1.6" stroke-linejoin="miter"/><path d="M1507.73 269.15L1515.63 283.45L1507.33 283.45L1507.33 269.95Z" fill="#008b8b"/><path d="M1507.73 276.07L1515.63 290.37L1499.83 290.37Z" fill="#fff" stroke="#008b8b" stroke-width="1.6" stroke-linejoin="miter"/><path d="M1507.73 276.07L1515.63 290.37L1507.33 290.37L1507.33 276.87Z" fill="#008b8b"/><path d="M1508.13 288.84L1516.03 303.14L1500.23 303.14Z" fill="#fff" stroke="#008b8b" stroke-width="1.6" stroke-linejoin="miter"/><path d="M1508.13 288.84L1516.03 303.14L1507.73 303.14L1507.73 289.64Z" fill="#008b8b"/><path d="M1508.13 291.4L1516.03 305.7L1500.23 305.7Z" fill="#fff" stroke="#008b8b" stroke-width="1.6" stroke-linejoin="miter"/><path d="M1508.13 291.4L1516.03 305.7L1507.73 305.7L1507.73 292.2Z" fill="#008b8b"/><path d="M1508.13 293.2L1516.03 307.5L1500.23 307.5Z" fill="#fff" stroke="#008b8b" stroke-width="1.6" stroke-linejoin="miter"/><path d="M1508.13 293.2L1516.03 307.5L1507.73 307.5L1507.73 294Z" fill="#008b8b"/><path d="M1508.13 295.61L1516.03 309.91L1500.23 309.91Z" fill="#fff" stroke="#008b8b" stroke-width="1.6" stroke-linejoin="miter"/><path d="M1508.13 295.61L1516.03 309.91L1507.73 309.91L1507.73 296.41Z" fill="#008b8b"/><path d="M1508.13 298.16L1516.03 312.46L1500.23 312.46Z" fill="#fff" stroke="#008b8b" stroke-width="1.6" stroke-linejoin="miter"/><path d="M1508.13 298.16L1516.03 312.46L1507.73 312.46L1507.73 298.96Z" fill="#008b8b"/></g>
<g><path d="M1061.2 284.48L1077.1 284.48L1069.15 299.08Z" fill="#fff" stroke="#ff0000" stroke-width="1.8" stroke-linejoin="miter"/><path d="M1061.2 284.48L1070.05 284.48L1070.05 297.38L1069.15 299.08Z" fill="#ff0000"/><path d="M1113.87 151.15L1129.77 151.15L1121.82 165.75Z" fill="#fff" stroke="#ff0000" stroke-width="1.8" stroke-linejoin="miter"/><path d="M1113.87 151.15L1122.72 151.15L1122.72 164.05L1121.82 165.75Z" fill="#ff0000"/><path d="M1113.87 177.45L1129.77 177.45L1121.82 192.05Z" fill="#fff" stroke="#ff0000" stroke-width="1.8" stroke-linejoin="miter"/><path d="M1113.87 177.45L1122.72 177.45L1122.72 190.35L1121.82 192.05Z" fill="#ff0000"/><path d="M1113.87 195.34L1129.77 195.34L1121.82 209.94Z" fill="#fff" stroke="#ff0000" stroke-width="1.8" stroke-linejoin="miter"/><path d="M1113.87 195.34L1122.72 195.34L1122.72 208.24L1121.82 209.94Z" fill="#ff0000"/><path d="M1113.87 222.25L1129.77 222.25L1121.82 236.85Z" fill="#fff" stroke="#ff0000" stroke-width="1.8" stroke-linejoin="miter"/><path d="M1113.87 222.25L1122.72 222.25L1122.72 235.15L1121.82 236.85Z" fill="#ff0000"/><path d="M1113.87 236.83L1129.77 236.83L1121.82 251.43Z" fill="#fff" stroke="#ff0000" stroke-width="1.8" stroke-linejoin="miter"/><path d="M1113.87 236.83L1122.72 236.83L1122.72 249.73L1121.82 251.43Z" fill="#ff0000"/><path d="M1137.87 262.99L1153.77 262.99L1145.82 277.59Z" fill="#fff" stroke="#ff0000" stroke-width="1.8" stroke-linejoin="miter"/><path d="M1137.87 262.99L1146.72 262.99L1146.72 275.89L1145.82 277.59Z" fill="#ff0000"/><path d="M1152.81 242.84L1168.71 242.84L1160.76 257.44Z" fill="#fff" stroke="#ff0000" stroke-width="1.8" stroke-linejoin="miter"/><path d="M1152.81 242.84L1161.66 242.84L1161.66 255.74L1160.76 257.44Z" fill="#ff0000"/><path d="M1159.47 226.31L1175.38 226.31L1167.42 240.91Z" fill="#fff" stroke="#ff0000" stroke-width="1.8" stroke-linejoin="miter"/><path d="M1159.47 226.31L1168.33 226.31L1168.33 239.21L1167.42 240.91Z" fill="#ff0000"/><path d="M1159.47 229.31L1175.38 229.31L1167.42 243.91Z" fill="#fff" stroke="#ff0000" stroke-width="1.8" stroke-linejoin="miter"/><path d="M1159.47 229.31L1168.33 229.31L1168.33 242.21L1167.42 243.91Z" fill="#ff0000"/><path d="M1159.47 232.32L1175.38 232.32L1167.42 246.92Z" fill="#fff" stroke="#ff0000" stroke-width="1.8" stroke-linejoin="miter"/><path d="M1159.47 232.32L1168.33 232.32L1168.33 245.22L1167.42 246.92Z" fill="#ff0000"/><path d="M1159.47 235.33L1175.38 235.33L1167.42 249.93Z" fill="#fff" stroke="#ff0000" stroke-width="1.8" stroke-linejoin="miter"/><path d="M1159.47 235.33L1168.33 235.33L1168.33 248.23L1167.42 249.93Z" fill="#ff0000"/><path d="M1159.47 254.87L1175.38 254.87L1167.42 269.47Z" fill="#fff" stroke="#ff0000" stroke-width="1.8" stroke-linejoin="miter"/><path d="M1159.47 254.87L1168.33 254.87L1168.33 267.77L1167.42 269.47Z" fill="#ff0000"/><path d="M1159.47 259.38L1175.38 259.38L1167.42 273.98Z" fill="#fff" stroke="#ff0000" stroke-width="1.8" stroke-linejoin="miter"/><path d="M1159.47 259.38L1168.33 259.38L1168.33 272.28L1167.42 273.98Z" fill="#ff0000"/><path d="M1159.47 263.89L1175.38 263.89L1167.42 278.49Z" fill="#fff" stroke="#ff0000" stroke-width="1.8" stroke-linejoin="miter"/><path d="M1159.47 263.89L1168.33 263.89L1168.33 276.79L1167.42 278.49Z" fill="#ff0000"/><path d="M1159.47 268.4L1175.38 268.4L1167.42 283Z" fill="#fff" stroke="#ff0000" stroke-width="1.8" stroke-linejoin="miter"/><path d="M1159.47 268.4L1168.33 268.4L1168.33 281.3L1167.42 283Z" fill="#ff0000"/><path d="M1159.47 272.91L1175.38 272.91L1167.42 287.51Z" fill="#fff" stroke="#ff0000" stroke-width="1.8" stroke-linejoin="miter"/><path d="M1159.47 272.91L1168.33 272.91L1168.33 285.81L1167.42 287.51Z" fill="#ff0000"/><path d="M1159.47 277.42L1175.38 277.42L1167.42 292.02Z" fill="#fff" stroke="#ff0000" stroke-width="1.8" stroke-linejoin="miter"/><path d="M1159.47 277.42L1168.33 277.42L1168.33 290.32L1167.42 292.02Z" fill="#ff0000"/><path d="M1159.47 281.18L1175.38 281.18L1167.42 295.78Z" fill="#fff" stroke="#ff0000" stroke-width="1.8" stroke-linejoin="miter"/><path d="M1159.47 281.18L1168.33 281.18L1168.33 294.08L1167.42 295.78Z" fill="#ff0000"/><path d="M1159.47 291.25L1175.38 291.25L1167.42 305.85Z" fill="#fff" stroke="#ff0000" stroke-width="1.8" stroke-linejoin="miter"/><path d="M1159.47 291.25L1168.33 291.25L1168.33 304.15L1167.42 305.85Z" fill="#ff0000"/><path d="M1186.14 249.31L1202.05 249.31L1194.1 263.91Z" fill="#fff" stroke="#ff0000" stroke-width="1.8" stroke-linejoin="miter"/><path d="M1186.14 249.31L1195 249.31L1195 262.21L1194.1 263.91Z" fill="#ff0000"/><path d="M1186.14 254.87L1202.05 254.87L1194.1 269.47Z" fill="#fff" stroke="#ff0000" stroke-width="1.8" stroke-linejoin="miter"/><path d="M1186.14 254.87L1195 254.87L1195 267.77L1194.1 269.47Z" fill="#ff0000"/><path d="M1186.14 260.88L1202.05 260.88L1194.1 275.48Z" fill="#fff" stroke="#ff0000" stroke-width="1.8" stroke-linejoin="miter"/><path d="M1186.14 260.88L1195 260.88L1195 273.78L1194.1 275.48Z" fill="#ff0000"/><path d="M1186.14 266.9L1202.05 266.9L1194.1 281.5Z" fill="#fff" stroke="#ff0000" stroke-width="1.8" stroke-linejoin="miter"/><path d="M1186.14 266.9L1195 266.9L1195 279.8L1194.1 281.5Z" fill="#ff0000"/><path d="M1186.14 272.91L1202.05 272.91L1194.1 287.51Z" fill="#fff" stroke="#ff0000" stroke-width="1.8" stroke-linejoin="miter"/><path d="M1186.14 272.91L1195 272.91L1195 285.81L1194.1 287.51Z" fill="#ff0000"/><path d="M1186.14 278.17L1202.05 278.17L1194.1 292.77Z" fill="#fff" stroke="#ff0000" stroke-width="1.8" stroke-linejoin="miter"/><path d="M1186.14 278.17L1195 278.17L1195 291.07L1194.1 292.77Z" fill="#ff0000"/><path d="M1186.14 283.43L1202.05 283.43L1194.1 298.03Z" fill="#fff" stroke="#ff0000" stroke-width="1.8" stroke-linejoin="miter"/><path d="M1186.14 283.43L1195 283.43L1195 296.33L1194.1 298.03Z" fill="#ff0000"/><path d="M1248.82 245.85L1264.72 245.85L1256.77 260.45Z" fill="#fff" stroke="#ff0000" stroke-width="1.8" stroke-linejoin="miter"/><path d="M1248.82 245.85L1257.67 245.85L1257.67 258.75L1256.77 260.45Z" fill="#ff0000"/><path d="M1248.82 248.86L1264.72 248.86L1256.77 263.46Z" fill="#fff" stroke="#ff0000" stroke-width="1.8" stroke-linejoin="miter"/><path d="M1248.82 248.86L1257.67 248.86L1257.67 261.76L1256.77 263.46Z" fill="#ff0000"/><path d="M1248.82 267.65L1264.72 267.65L1256.77 282.25Z" fill="#fff" stroke="#ff0000" stroke-width="1.8" stroke-linejoin="miter"/><path d="M1248.82 267.65L1257.67 267.65L1257.67 280.55L1256.77 282.25Z" fill="#ff0000"/><path d="M1248.82 270.35L1264.72 270.35L1256.77 284.95Z" fill="#fff" stroke="#ff0000" stroke-width="1.8" stroke-linejoin="miter"/><path d="M1248.82 270.35L1257.67 270.35L1257.67 283.25L1256.77 284.95Z" fill="#ff0000"/><path d="M1274.16 292.45L1290.06 292.45L1282.11 307.05Z" fill="#fff" stroke="#ff0000" stroke-width="1.8" stroke-linejoin="miter"/><path d="M1274.16 292.45L1283.01 292.45L1283.01 305.35L1282.11 307.05Z" fill="#ff0000"/><path d="M1365.5 269.15L1381.4 269.15L1373.45 283.75Z" fill="#fff" stroke="#ff0000" stroke-width="1.8" stroke-linejoin="miter"/><path d="M1365.5 269.15L1374.35 269.15L1374.35 282.05L1373.45 283.75Z" fill="#ff0000"/><path d="M1367.5 266.9L1383.4 266.9L1375.45 281.5Z" fill="#fff" stroke="#ff0000" stroke-width="1.8" stroke-linejoin="miter"/><path d="M1367.5 266.9L1376.35 266.9L1376.35 279.8L1375.45 281.5Z" fill="#ff0000"/><path d="M1384.84 236.83L1400.74 236.83L1392.79 251.43Z" fill="#fff" stroke="#ff0000" stroke-width="1.8" stroke-linejoin="miter"/><path d="M1384.84 236.83L1393.69 236.83L1393.69 249.73L1392.79 251.43Z" fill="#ff0000"/><path d="M1384.84 241.34L1400.74 241.34L1392.79 255.94Z" fill="#fff" stroke="#ff0000" stroke-width="1.8" stroke-linejoin="miter"/><path d="M1384.84 241.34L1393.69 241.34L1393.69 254.24L1392.79 255.94Z" fill="#ff0000"/><path d="M1384.84 266.14L1400.74 266.14L1392.79 280.74Z" fill="#fff" stroke="#ff0000" stroke-width="1.8" stroke-linejoin="miter"/><path d="M1384.84 266.14L1393.69 266.14L1393.69 279.04L1392.79 280.74Z" fill="#ff0000"/></g>
<rect x="967.4" y="21.65" width="613.3" height="300.65" fill="none" stroke="#000" stroke-width="2.8"/>
<circle cx="1062" cy="46.4" r="6.35" fill="#fff" stroke="#000000" stroke-width="3.0"/><path d="M1063.3 40.05A6.35 6.35 0 0 0 1063.3 52.75Z" fill="#000000"/><rect x="1062" y="40.05" width="1" height="12.7" fill="#000000"/>
<path d="M1062 72.95L1069.9 87.25L1054.1 87.25Z" fill="#fff" stroke="#008b8b" stroke-width="1.6" stroke-linejoin="miter"/><path d="M1062 72.95L1069.9 87.25L1061.6 87.25L1061.6 73.75Z" fill="#008b8b"/>
<rect x="1348.15" y="39.35" width="14.1" height="14.1" fill="#0000ff"/><rect x="1350.75" y="41.55" width="3.3" height="9.6" fill="#fff"/>
<path d="M1272.45 77.2L1288.35 77.2L1280.4 91.8Z" fill="#fff" stroke="#ff0000" stroke-width="1.8" stroke-linejoin="miter"/><path d="M1272.45 77.2L1281.3 77.2L1281.3 90.1L1280.4 91.8Z" fill="#ff0000"/>
<g font-size="29.5" fill="#000">
<text x="1094.8" y="56.7" textLength="220.5" lengthAdjust="spacingAndGlyphs">deformed cut sheet</text>
<text x="1388.8" y="56.8" textLength="112.5" lengthAdjust="spacingAndGlyphs">ingot mill</text>
<text x="1094.8" y="92.7" textLength="146" lengthAdjust="spacingAndGlyphs">straight wire</text>
<text x="1313.3" y="92.7" textLength="261" lengthAdjust="spacingAndGlyphs">crimped/indented wire</text>
</g>
<g font-size="34.0" fill="#000" text-anchor="middle">
<text transform="translate(967.4 362.5) scale(1 1.04)">0.5</text>
<text transform="translate(1034.08 362.5) scale(1 1.04)">1.0</text>
<text transform="translate(1100.75 362.5) scale(1 1.04)">1.5</text>
<text transform="translate(1167.42 362.5) scale(1 1.04)">2.0</text>
<text transform="translate(1234.1 362.5) scale(1 1.04)">2.5</text>
<text transform="translate(1300.78 362.5) scale(1 1.04)">3.0</text>
<text transform="translate(1367.45 362.5) scale(1 1.04)">3.5</text>
<text transform="translate(1434.12 362.5) scale(1 1.04)">4.0</text>
<text transform="translate(1500.8 362.5) scale(1 1.04)">4.5</text>
<text transform="translate(1567.47 362.5) scale(1 1.04)">5.0</text>
</g>
<g font-size="34.5" fill="#000" text-anchor="end">
<text transform="translate(954 334.1) scale(1 1.085)">0.00</text>
<text transform="translate(954 258.94) scale(1 1.085)">0.05</text>
<text transform="translate(954 183.78) scale(1 1.085)">0.10</text>
<text transform="translate(954 108.61) scale(1 1.085)">0.15</text>
<text transform="translate(954 33.45) scale(1 1.085)">0.20</text>
</g>
<text transform="translate(27.8 197) rotate(-90) scale(0.84 1) skewX(-21)" font-size="39" font-style="italic" fill="#000">V</text><text transform="translate(39.7 169.6) rotate(-90) scale(1.25 1)" font-size="28.7" fill="#000">f</text><text transform="translate(29.2 149.3) rotate(-90) scale(1.0 1)" font-size="39" fill="#000">/</text><text transform="translate(27.8 140) rotate(-90) scale(0.84 1) skewX(-21)" font-size="39" font-style="italic" fill="#000">V</text><text transform="translate(40 112.3) rotate(-90) scale(0.94 1)" font-size="28.7" fill="#000">uc</text>
<text transform="translate(858 200.7) rotate(-90) scale(0.84 1) skewX(-21)" font-size="39" font-style="italic" fill="#000">V</text><text transform="translate(869.9 173.3) rotate(-90) scale(1.25 1)" font-size="28.7" fill="#000">f</text><text transform="translate(859.4 153) rotate(-90) scale(1.0 1)" font-size="39" fill="#000">/</text><text transform="translate(858 144.5) rotate(-90) scale(0.84 1) skewX(-21)" font-size="39" font-style="italic" fill="#000">V</text><text transform="translate(870.2 119.4) rotate(-90) scale(0.94 1)" font-size="28.7" fill="#000">uc</text>
<text transform="translate(414.2 418) scale(1.27 1) skewX(-7)" font-size="41" font-style="italic" fill="#000">λ</text>
<text transform="translate(428.8 456.8) scale(1 1.05)" font-size="34" text-anchor="middle" fill="#000">(a)</text>
<text transform="translate(1209.2 418.0) scale(1.22 1.1) skewX(-8)" font-size="41.5" font-style="italic" fill="#000">ρ</text>
<text transform="translate(1240.5 418.8) scale(1.075 1)" font-size="39.5" fill="#000">(%)</text>
<text transform="translate(1260.3 462.6) scale(1.02 1.05)" font-size="34" text-anchor="middle" fill="#000">(b)</text>
</svg>
</body>
</html>
